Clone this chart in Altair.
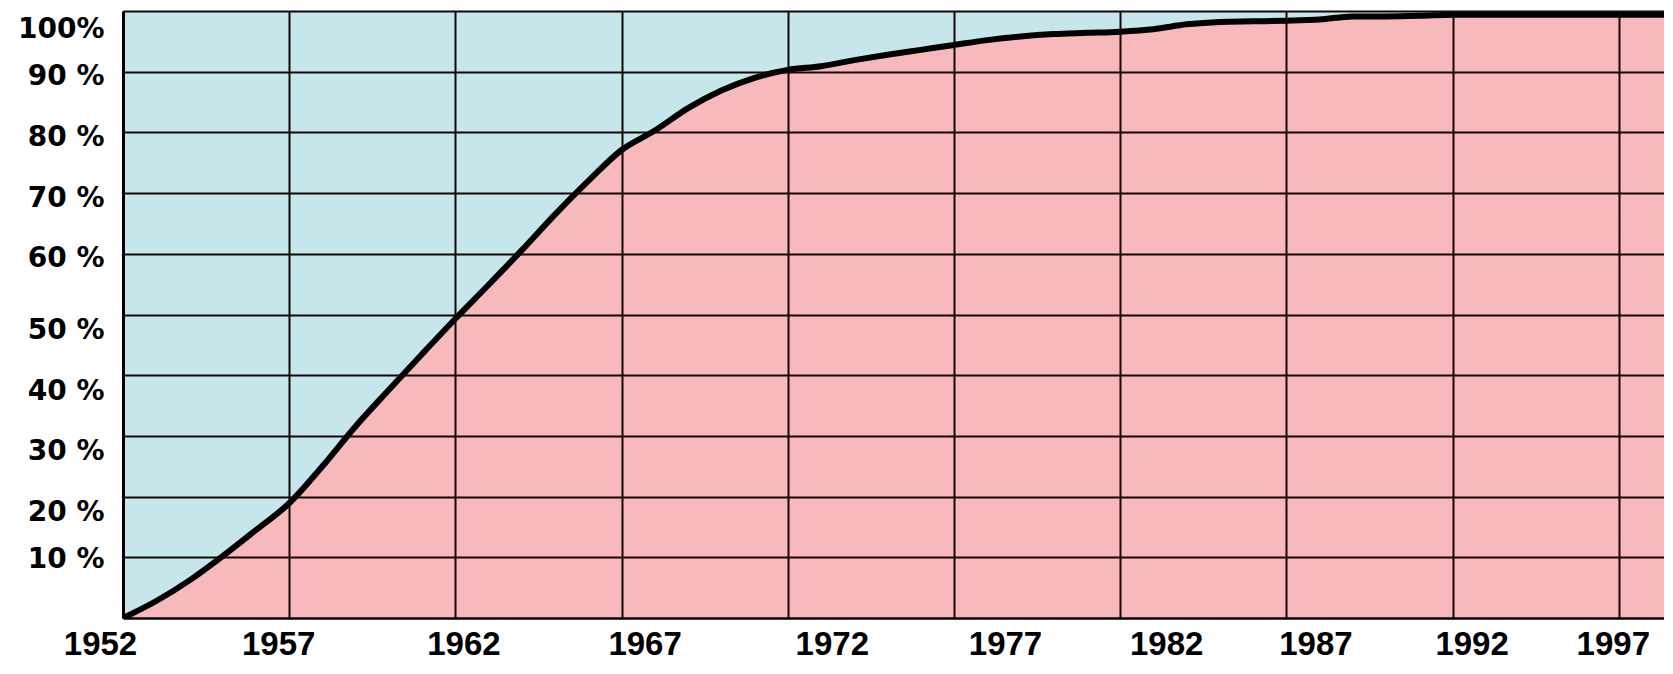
import altair as alt
import pandas as pd

# Share (%) over the years
YEARS = list(range(1952, 2000))
SHARE = [
    0.0, 2.8, 6.2, 10.2, 14.5, 18.9, 25.0, 31.6, 37.6, 43.5,
    49.3, 54.9, 60.6, 66.5, 72.0, 77.1, 80.3, 84.0, 86.9, 89.0,
    90.3, 90.9, 91.9, 92.8, 93.6, 94.4, 95.2, 95.8, 96.2, 96.4,
    96.6, 97.0, 97.8, 98.2, 98.3, 98.4, 98.6, 99.1, 99.1, 99.2,
    99.4, 99.4, 99.4, 99.4, 99.4, 99.4, 99.4, 99.4,
]
X_TICKS = [1952, 1957, 1962, 1967, 1972, 1977, 1982, 1987, 1992, 1997]
Y_GRID = list(range(0, 101, 5))

BLUE = "#c7e6ec"
PINK = "#f8b9bc"
GRID = "#140606"

df = pd.DataFrame({"year": YEARS, "share": SHARE})

x_shift = "[-23,-11,8,23,44,51,46,29,19,-6][round((datum.value-1952)/5)]"
y_shift = "datum.value == 100 ? 18 : datum.value >= 60 ? 5 : datum.value >= 20 ? 16 : 2"

x = alt.X(
    "year:Q",
    scale=alt.Scale(domain=[1952, 1998.36], nice=False, zero=False),
    axis=alt.Axis(
        values=X_TICKS, title=None, format="d",
        grid=True, gridColor=GRID, gridWidth=2, gridOpacity=1,
        domainColor="black", domainWidth=2,
        ticks=False, tickSize=0,
        labelFont="Liberation Sans", labelFontSize=33, labelFontWeight="bold",
        labelColor="black", labelPadding=36, labelBaseline="alphabetic",
        labelOffset={"expr": x_shift}, labelFlush=False, labelOverlap=False,
        zindex=1,
    ),
)
y = alt.Y(
    "share:Q",
    scale=alt.Scale(domain=[0, 100], nice=False),
    axis=alt.Axis(
        values=Y_GRID, title=None,
        labelExpr="datum.value == 100 ? '100%' : (datum.value % 10 == 0 && datum.value > 0 ? datum.value + ' %' : '')",
        grid=True, gridColor=GRID, gridWidth=2, gridOpacity=1,
        domainColor="black", domainWidth=3,
        ticks=False, tickSize=0,
        labelFont="DejaVu Sans", labelFontSize=28, labelFontWeight="bold",
        labelColor="black", labelPadding=19, labelAlign="right",
        labelBaseline="middle", labelOffset={"expr": y_shift},
        labelFlush=False, labelOverlap=False,
        zindex=1,
    ),
)

base = alt.Chart(df)
area = base.mark_area(color=PINK, opacity=1, interpolate="monotone", clip=True).encode(x=x, y=y)
line = base.mark_line(
    color="black", strokeWidth=6, strokeJoin="round", strokeCap="round",
    interpolate="monotone", clip=True,
).encode(x="year:Q", y="share:Q")

chart = (
    alt.layer(area, line)
    .properties(
        width=1541,
        height=607,
        autosize=alt.AutoSizeParams(type="none"),
        padding={"left": 115, "top": 3, "right": 0, "bottom": 44},
        background="white",
    )
    .configure_view(fill=BLUE, strokeOpacity=0)
)

chart.save("out.html", embed_options={"renderer": "svg", "actions": False})
